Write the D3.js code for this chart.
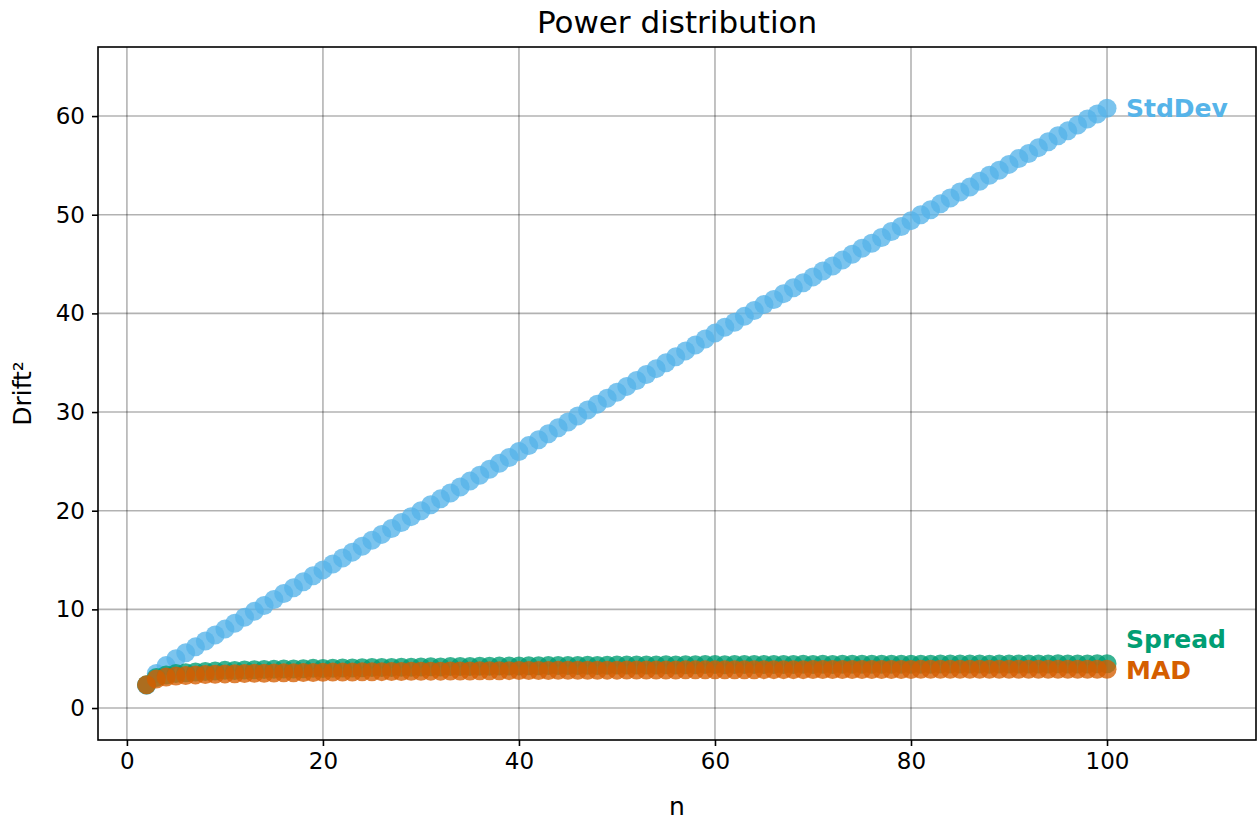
<!DOCTYPE html>
<html>
<head>
<meta charset="utf-8">
<script src="https://cdn.jsdelivr.net/npm/d3@7"></script>
<style>
  body { margin: 0; background: #fff; }
  text { font-family: "DejaVu Sans", sans-serif; }
</style>
</head>
<body>
<div id="canvas"></div>
<script>
"use strict"

/* Drawing size and plot area */
let svgWidth = 1260;
let svgHeight = 825;

let marginLeft = 98;
let marginRight = 4;
let marginTop = 47;
let marginBottom = 85;

/* Data: n = 2..100 */
let nValues = d3.range(2, 101);

let stdDevValues = [
    2.3, 3.5, 4.3, 5.0, 5.6, 6.2, 6.8, 7.4, 8.0, 8.6,
    9.2, 9.8, 10.4, 11.0, 11.6, 12.2, 12.8, 13.4, 14.0, 14.6,
    15.2, 15.8, 16.4, 17.0, 17.6, 18.2, 18.8, 19.4, 20.0, 20.6,
    21.2, 21.8, 22.4, 23.0, 23.6, 24.2, 24.8, 25.4, 26.0, 26.6,
    27.2, 27.8, 28.4, 29.0, 29.6, 30.2, 30.8, 31.4, 32.0, 32.6,
    33.2, 33.8, 34.4, 35.0, 35.6, 36.2, 36.8, 37.4, 38.0, 38.6,
    39.1, 39.7, 40.3, 40.9, 41.4, 42.0, 42.6, 43.1, 43.7, 44.3,
    44.8, 45.4, 46.0, 46.6, 47.1, 47.7, 48.3, 48.8, 49.4, 50.0,
    50.5, 51.1, 51.7, 52.3, 52.8, 53.4, 54.0, 54.5, 55.1, 55.7,
    56.2, 56.8, 57.4, 58.0, 58.5, 59.1, 59.7, 60.2, 60.8
];

let spreadValues = [
    2.35, 3.10, 3.35, 3.50, 3.58, 3.66, 3.70, 3.76, 3.82, 3.80,
    3.86, 3.88, 3.90, 3.92, 3.96, 3.95, 3.98, 4.02, 4.00, 4.04,
    4.06, 4.05, 4.08, 4.10, 4.11, 4.12, 4.14, 4.13, 4.16, 4.18,
    4.17, 4.20, 4.21, 4.20, 4.23, 4.24, 4.25, 4.26, 4.27, 4.29,
    4.28, 4.30, 4.31, 4.30, 4.32, 4.33, 4.32, 4.34, 4.36, 4.35,
    4.36, 4.37, 4.36, 4.38, 4.37, 4.39, 4.38, 4.40, 4.40, 4.39,
    4.41, 4.40, 4.41, 4.42, 4.41, 4.42, 4.41, 4.43, 4.42, 4.43,
    4.42, 4.43, 4.44, 4.43, 4.44, 4.43, 4.44, 4.45, 4.44, 4.45,
    4.44, 4.46, 4.47, 4.46, 4.47, 4.46, 4.45, 4.46, 4.47, 4.46,
    4.47, 4.46, 4.47, 4.48, 4.47, 4.46, 4.47, 4.48, 4.48
];

let madValues = [
    2.35, 2.95, 3.15, 3.25, 3.30, 3.36, 3.40, 3.42, 3.46, 3.48,
    3.50, 3.52, 3.53, 3.55, 3.57, 3.58, 3.60, 3.61, 3.62, 3.64,
    3.65, 3.66, 3.67, 3.68, 3.69, 3.70, 3.71, 3.72, 3.73, 3.74,
    3.74, 3.75, 3.76, 3.76, 3.77, 3.78, 3.78, 3.79, 3.80, 3.80,
    3.81, 3.81, 3.82, 3.82, 3.83, 3.83, 3.83, 3.84, 3.84, 3.85,
    3.85, 3.85, 3.86, 3.86, 3.86, 3.87, 3.87, 3.87, 3.87, 3.88,
    3.88, 3.88, 3.88, 3.89, 3.89, 3.89, 3.89, 3.89, 3.90, 3.90,
    3.90, 3.90, 3.90, 3.91, 3.91, 3.91, 3.91, 3.91, 3.91, 3.92,
    3.92, 3.92, 3.92, 3.92, 3.92, 3.92, 3.93, 3.93, 3.93, 3.93,
    3.93, 3.93, 3.93, 3.93, 3.94, 3.94, 3.94, 3.94, 3.94
];

let seriesNames = ["StdDev", "Spread", "MAD"];
let seriesColors = ["#56B4E9", "#009E73", "#D55E00"];
let xTickValues = [0, 20, 40, 60, 80, 100];
let yTickValues = [0, 10, 20, 30, 40, 50, 60];

let seriesList = [stdDevValues, spreadValues, madValues];

/* Create drawing canvas */
let svg = d3.select("#canvas")
    .append("svg")
    .attr("width", svgWidth)
    .attr("height", svgHeight);

// Scales
let xScale = d3.scaleLinear()
    .domain([-2.95, 115.2])
    .range([marginLeft, svgWidth - marginRight]);

let yScale = d3.scaleLinear()
    .domain([-3.24, 67.0])
    .range([svgHeight - marginBottom, marginTop]);

/**** grid ****/
svg.append("g")
    .selectAll("line")
    .data(xTickValues)
    .join("line")
    .attr("x1", d => xScale(d))
    .attr("x2", d => xScale(d))
    .attr("y1", marginTop)
    .attr("y2", svgHeight - marginBottom)
    .attr("stroke", "#000")
    .attr("stroke-opacity", 0.3)
    .attr("stroke-width", 1.6);

svg.append("g")
    .selectAll("line")
    .data(yTickValues)
    .join("line")
    .attr("x1", marginLeft)
    .attr("x2", svgWidth - marginRight)
    .attr("y1", d => yScale(d))
    .attr("y2", d => yScale(d))
    .attr("stroke", "#000")
    .attr("stroke-opacity", 0.3)
    .attr("stroke-width", 1.6);

/**** points, one series after the other ****/
for (let i = 0; i < seriesList.length; i++) {
    svg.append("g")
        .selectAll("circle")
        .data(seriesList[i])
        .join("circle")
        .attr("cx", (d, j) => xScale(nValues[j]))
        .attr("cy", d => yScale(d))
        .attr("r", 9.5)
        .attr("fill", seriesColors[i])
        .attr("fill-opacity", 0.78);
}

/**** series labels at line ends ****/
let lastN = nValues[nValues.length - 1];
let labelShift = [0, -24, 1]; // pixel nudges so Spread and MAD labels don't collide
for (let i = 0; i < seriesList.length; i++) {
    let lastValue = seriesList[i][seriesList[i].length - 1];
    svg.append("text")
        .attr("x", xScale(lastN) + 19)
        .attr("y", yScale(lastValue) + labelShift[i])
        .attr("dominant-baseline", "central")
        .attr("font-size", 25)
        .attr("font-weight", "bold")
        .attr("fill", seriesColors[i])
        .text(seriesNames[i]);
}

/**** axes ****/
let xAxis = d3.axisBottom(xScale).tickValues(xTickValues).tickSize(6).tickPadding(7);
let yAxis = d3.axisLeft(yScale).tickValues(yTickValues).tickSize(6).tickPadding(7);

let gx = svg.append("g")
    .attr("transform", "translate(0," + (svgHeight - marginBottom) + ")")
    .call(xAxis);
let gy = svg.append("g")
    .attr("transform", "translate(" + marginLeft + ",0)")
    .call(yAxis);

[gx, gy].forEach(g => {
    g.select(".domain").remove();
    g.selectAll("line").attr("stroke", "#000").attr("stroke-width", 1.6);
    g.selectAll("text")
        .attr("font-family", "DejaVu Sans")
        .attr("font-size", 23)
        .attr("fill", "#000");
});

// frame around the plot
svg.append("rect")
    .attr("x", marginLeft)
    .attr("y", marginTop)
    .attr("width", svgWidth - marginRight - marginLeft)
    .attr("height", svgHeight - marginBottom - marginTop)
    .attr("fill", "none")
    .attr("stroke", "#000")
    .attr("stroke-width", 1.6);

/**** title and axis labels ****/
svg.append("text")
    .attr("x", (marginLeft + svgWidth - marginRight) / 2)
    .attr("y", 22)
    .attr("text-anchor", "middle")
    .attr("dominant-baseline", "central")
    .attr("font-size", 31)
    .text("Power distribution");

svg.append("text")
    .attr("x", (marginLeft + svgWidth - marginRight) / 2)
    .attr("y", 806)
    .attr("text-anchor", "middle")
    .attr("dominant-baseline", "central")
    .attr("font-size", 25)
    .text("n");

svg.append("text")
    .attr("transform", "rotate(-90)")
    .attr("x", -(marginTop + svgHeight - marginBottom) / 2)
    .attr("y", 22)
    .attr("text-anchor", "middle")
    .attr("dominant-baseline", "central")
    .attr("font-size", 25)
    .text("Drift²");
</script>
</body>
</html>
